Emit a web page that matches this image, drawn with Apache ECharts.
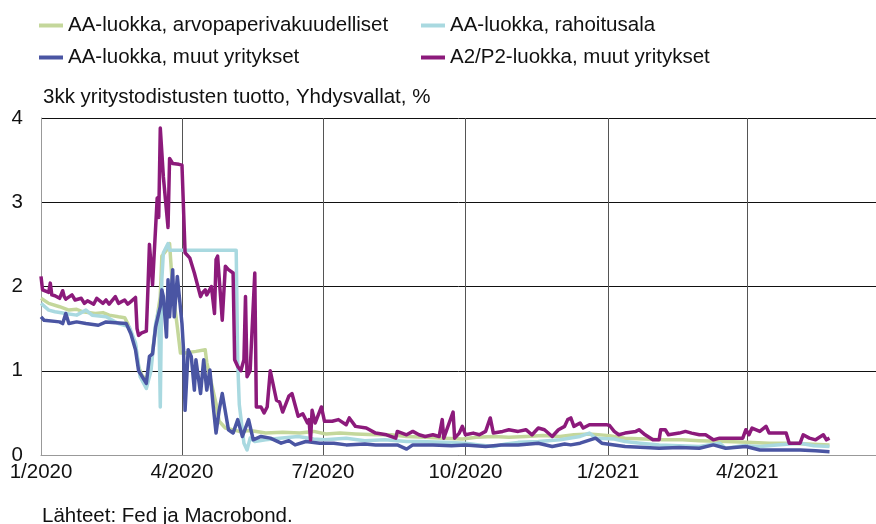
<!DOCTYPE html>
<html>
<head>
<meta charset="utf-8">
<script src="https://cdn.jsdelivr.net/npm/echarts@6/dist/echarts.min.js"></script>
<style>
  html, body { margin: 0; padding: 0; background: #fff; }
  #chart { width: 876px; height: 524px; }
</style>
</head>
<body>
<div id="chart"></div>
<script>
// series names, same order as the legend
var names = ['AA-luokka, arvopaperivakuudelliset', 'AA-luokka, rahoitusala',
             'AA-luokka, muut yritykset', 'A2/P2-luokka, muut yritykset'];
var yTicks = [0, 1, 2, 3, 4];

// AA-luokka, arvopaperivakuudelliset
var aaAbs = [
  ['2020-01-01',1.86],['2020-01-06',1.80],['2020-01-13',1.76],['2020-01-19',1.72],['2020-01-24',1.73],
  ['2020-01-28',1.70],['2020-02-05',1.68],['2020-02-10',1.69],['2020-02-14',1.66],['2020-02-20',1.64],
  ['2020-02-24',1.63],['2020-02-26',1.56],['2020-02-29',1.40],['2020-03-02',1.30],['2020-03-04',1.05],
  ['2020-03-06',0.95],['2020-03-09',0.89],['2020-03-12',1.09],['2020-03-15',1.52],['2020-03-18',1.88],
  ['2020-03-19',2.36],['2020-03-22',2.43],['2020-03-24',2.51],['2020-03-26',1.96],['2020-03-29',1.52],
  ['2020-03-31',1.21],['2020-04-03',1.21],['2020-04-10',1.23],['2020-04-16',1.25],['2020-04-17',1.10],
  ['2020-04-21',0.77],['2020-04-23',0.61],['2020-04-25',0.40],['2020-04-29',0.32],['2020-05-08',0.28],
  ['2020-05-15',0.29],['2020-05-25',0.26],['2020-06-05',0.27],['2020-06-16',0.26],['2020-06-25',0.28],
  ['2020-07-03',0.25],['2020-07-12',0.26],['2020-07-22',0.25],['2020-08-04',0.24],['2020-08-14',0.24],
  ['2020-08-24',0.22],['2020-09-05',0.21],['2020-09-17',0.20],['2020-09-29',0.19],['2020-10-08',0.21],
  ['2020-10-19',0.22],['2020-10-29',0.21],['2020-11-09',0.22],['2020-11-20',0.23],['2020-12-01',0.22],
  ['2020-12-10',0.24],['2020-12-20',0.25],['2021-01-02',0.23],['2021-01-12',0.20],['2021-01-25',0.19],
  ['2021-02-05',0.18],['2021-02-18',0.18],['2021-03-01',0.17],['2021-03-18',0.16],['2021-04-01',0.15],
  ['2021-04-15',0.14],['2021-04-28',0.14],['2021-05-10',0.13],['2021-05-24',0.12]
];

// AA-luokka, rahoitusala
var aaFin = [
  ['2020-01-01',1.80],['2020-01-06',1.72],['2020-01-10',1.70],['2020-01-17',1.68],['2020-01-24',1.66],
  ['2020-01-30',1.72],['2020-02-03',1.66],['2020-02-12',1.64],['2020-02-20',1.56],['2020-02-27',1.52],
  ['2020-03-02',1.33],['2020-03-05',0.93],['2020-03-09',0.79],['2020-03-12',1.00],['2020-03-15',1.56],
  ['2020-03-17',1.72],['2020-03-18',0.57],['2020-03-19',2.08],['2020-03-20',2.40],['2020-03-23',2.51],
  ['2020-03-24',2.43],['2020-05-06',2.43],['2020-05-07',1.09],['2020-05-08',0.60],['2020-05-11',0.14],
  ['2020-05-13',0.06],['2020-05-15',0.20],['2020-05-18',0.16],['2020-05-25',0.18],['2020-06-03',0.20],
  ['2020-06-15',0.22],['2020-06-25',0.19],['2020-07-02',0.18],['2020-07-16',0.20],['2020-07-28',0.17],
  ['2020-08-10',0.18],['2020-08-24',0.16],['2020-09-01',0.16],['2020-09-17',0.15],['2020-10-01',0.14],
  ['2020-10-10',0.12],['2020-10-19',0.10],['2020-10-27',0.13],['2020-11-04',0.15],['2020-11-17',0.16],
  ['2020-12-01',0.18],['2020-12-14',0.22],['2020-12-20',0.26],['2020-12-24',0.20],['2021-01-05',0.19],
  ['2021-01-12',0.16],['2021-01-22',0.14],['2021-02-03',0.12],['2021-02-16',0.11],['2021-03-01',0.10],
  ['2021-03-14',0.14],['2021-03-18',0.08],['2021-03-29',0.11],['2021-04-09',0.10],['2021-04-20',0.12],
  ['2021-05-05',0.14],['2021-05-14',0.11],['2021-05-24',0.10]
];

// AA-luokka, muut yritykset
var aaOther = [
  ['2020-01-01',1.64],['2020-01-03',1.60],['2020-01-13',1.58],['2020-01-15',1.56],['2020-01-17',1.68],
  ['2020-01-19',1.56],['2020-01-24',1.58],['2020-01-30',1.56],['2020-02-07',1.54],['2020-02-12',1.58],
  ['2020-02-18',1.57],['2020-02-25',1.56],['2020-02-28',1.44],['2020-03-02',1.25],['2020-03-04',1.00],
  ['2020-03-09',0.85],['2020-03-11',1.17],['2020-03-13',1.20],['2020-03-15',1.52],['2020-03-18',1.76],
  ['2020-03-19',1.96],['2020-03-20',1.88],['2020-03-22',1.40],['2020-03-23',2.08],['2020-03-24',1.64],
  ['2020-03-26',2.20],['2020-03-27',1.64],['2020-03-29',2.12],['2020-04-01',1.56],['2020-04-02',1.25],
  ['2020-04-03',0.53],['2020-04-05',1.25],['2020-04-07',1.17],['2020-04-09',0.77],['2020-04-10',1.13],
  ['2020-04-13',0.73],['2020-04-15',1.13],['2020-04-17',0.77],['2020-04-19',1.01],['2020-04-21',0.61],
  ['2020-04-23',0.26],['2020-04-25',0.53],['2020-04-27',0.73],['2020-05-01',0.30],['2020-05-04',0.26],
  ['2020-05-07',0.42],['2020-05-10',0.22],['2020-05-14',0.42],['2020-05-17',0.18],['2020-05-22',0.22],
  ['2020-05-28',0.20],['2020-06-04',0.14],['2020-06-09',0.17],['2020-06-13',0.12],['2020-06-20',0.16],
  ['2020-06-29',0.14],['2020-07-08',0.14],['2020-07-16',0.12],['2020-07-28',0.13],['2020-08-04',0.12],
  ['2020-08-18',0.12],['2020-08-24',0.07],['2020-08-28',0.12],['2020-09-10',0.12],['2020-09-22',0.11],
  ['2020-10-01',0.12],['2020-10-14',0.10],['2020-10-24',0.12],['2020-11-04',0.12],['2020-11-17',0.14],
  ['2020-11-26',0.10],['2020-12-04',0.13],['2020-12-08',0.12],['2020-12-14',0.14],['2020-12-24',0.20],
  ['2020-12-28',0.14],['2021-01-12',0.10],['2021-01-25',0.09],['2021-02-03',0.08],['2021-02-16',0.09],
  ['2021-03-01',0.08],['2021-03-10',0.12],['2021-03-18',0.08],['2021-03-31',0.10],['2021-04-09',0.06],
  ['2021-04-22',0.06],['2021-05-05',0.06],['2021-05-15',0.05],['2021-05-24',0.04]
];

// A2/P2-luokka, muut yritykset
var a2p2 = [
  ['2020-01-01',2.12],['2020-01-02',1.96],['2020-01-03',1.95],['2020-01-06',1.93],['2020-01-07',2.04],
  ['2020-01-08',1.90],['2020-01-10',1.89],['2020-01-13',1.86],['2020-01-15',1.95],['2020-01-16',1.88],
  ['2020-01-17',1.85],['2020-01-21',1.90],['2020-01-23',1.84],['2020-01-27',1.86],['2020-01-29',1.80],
  ['2020-01-31',1.83],['2020-02-04',1.79],['2020-02-06',1.86],['2020-02-10',1.80],['2020-02-12',1.84],
  ['2020-02-14',1.79],['2020-02-18',1.88],['2020-02-20',1.80],['2020-02-24',1.84],['2020-02-26',1.79],
  ['2020-02-28',1.82],['2020-03-02',1.87],['2020-03-03',1.50],['2020-03-04',1.42],['2020-03-06',1.45],
  ['2020-03-09',1.47],['2020-03-10',1.96],['2020-03-11',2.50],['2020-03-12',2.48],['2020-03-13',2.02],
  ['2020-03-16',3.05],['2020-03-17',2.82],['2020-03-18',3.88],['2020-03-19',3.86],['2020-03-20',3.30],
  ['2020-03-23',2.70],['2020-03-24',3.52],['2020-03-25',3.50],['2020-03-26',3.46],['2020-03-30',3.45],
  ['2020-04-01',3.44],['2020-04-02',3.43],['2020-04-03',2.40],['2020-04-06',2.34],['2020-04-07',2.32],
  ['2020-04-09',2.16],['2020-04-13',1.88],['2020-04-14',1.92],['2020-04-16',1.96],['2020-04-17',1.90],
  ['2020-04-20',2.00],['2020-04-22',1.68],['2020-04-23',2.32],['2020-04-24',2.36],['2020-04-27',1.60],
  ['2020-04-29',2.24],['2020-05-01',2.20],['2020-05-04',2.16],['2020-05-05',1.13],['2020-05-07',1.05],
  ['2020-05-09',1.00],['2020-05-11',1.13],['2020-05-12',1.88],['2020-05-13',0.93],['2020-05-15',1.00],
  ['2020-05-18',2.16],['2020-05-19',0.57],['2020-05-22',0.57],['2020-05-24',0.50],['2020-05-26',0.57],
  ['2020-05-28',1.00],['2020-06-01',0.65],['2020-06-03',0.63],['2020-06-05',0.51],['2020-06-09',0.70],
  ['2020-06-11',0.73],['2020-06-15',0.46],['2020-06-18',0.49],['2020-06-21',0.38],['2020-06-22',0.42],
  ['2020-06-23',0.18],['2020-06-24',0.53],['2020-06-26',0.38],['2020-06-30',0.57],['2020-07-02',0.40],
  ['2020-07-07',0.40],['2020-07-11',0.42],['2020-07-16',0.36],['2020-07-18',0.44],['2020-07-22',0.34],
  ['2020-07-29',0.32],['2020-08-04',0.26],['2020-08-11',0.24],['2020-08-17',0.20],['2020-08-18',0.28],
  ['2020-08-24',0.24],['2020-08-28',0.28],['2020-09-01',0.24],['2020-09-05',0.22],['2020-09-10',0.24],
  ['2020-09-14',0.22],['2020-09-16',0.42],['2020-09-17',0.20],['2020-09-23',0.51],['2020-09-24',0.20],
  ['2020-09-27',0.26],['2020-09-29',0.34],['2020-10-01',0.24],['2020-10-06',0.26],['2020-10-10',0.24],
  ['2020-10-14',0.28],['2020-10-17',0.44],['2020-10-19',0.26],['2020-10-25',0.28],['2020-10-29',0.30],
  ['2020-11-04',0.28],['2020-11-09',0.30],['2020-11-13',0.24],['2020-11-17',0.32],['2020-11-21',0.30],
  ['2020-11-26',0.22],['2020-11-30',0.30],['2020-12-04',0.34],['2020-12-06',0.42],['2020-12-08',0.44],
  ['2020-12-10',0.34],['2020-12-14',0.38],['2020-12-16',0.32],['2020-12-20',0.36],['2020-12-31',0.36],
  ['2021-01-02',0.35],['2021-01-05',0.28],['2021-01-08',0.24],['2021-01-12',0.26],['2021-01-19',0.28],
  ['2021-01-21',0.30],['2021-01-25',0.24],['2021-01-30',0.18],['2021-02-03',0.18],['2021-02-04',0.30],
  ['2021-02-07',0.30],['2021-02-09',0.24],['2021-02-16',0.26],['2021-02-20',0.28],['2021-02-24',0.26],
  ['2021-03-01',0.24],['2021-03-05',0.24],['2021-03-10',0.18],['2021-03-14',0.20],['2021-03-29',0.20],
  ['2021-03-31',0.30],['2021-04-02',0.24],['2021-04-04',0.32],['2021-04-09',0.28],['2021-04-13',0.34],
  ['2021-04-15',0.26],['2021-04-26',0.26],['2021-04-28',0.14],['2021-05-05',0.14],['2021-05-07',0.24],
  ['2021-05-11',0.20],['2021-05-15',0.18],['2021-05-20',0.24],['2021-05-22',0.18],['2021-05-24',0.20]
];

var colors = ['#c4d79b', '#a9d9e0', '#4a55a3', '#8c1a7b'];
var font = '"Liberation Sans", Arial, sans-serif';
var DAY = 24 * 3600 * 1000;

var chart = echarts.init(document.getElementById('chart'), null, { renderer: 'canvas' });

function line(name, data, color) {
  return {
    name: name,
    type: 'line',
    data: data,
    showSymbol: false,
    symbol: 'none',
    animation: false,
    lineStyle: { color: color, width: 3.5, join: 'round' },
    itemStyle: { color: color }
  };
}

function legend(left, items) {
  return {
    orient: 'vertical',
    left: left,
    top: 15,
    padding: 0,
    itemGap: 11,
    itemWidth: 24,
    itemHeight: 4,
    icon: 'rect',
    data: items,
    textStyle: { fontFamily: font, fontSize: 20.5, color: '#111', lineHeight: 20 }
  };
}

var option = {
  backgroundColor: '#fff',
  color: colors,
  title: {
    text: '3kk yritystodistusten tuotto, Yhdysvallat, %',
    left: 38,
    top: 82,
    textStyle: { fontFamily: font, fontSize: 20.5, fontWeight: 'normal', color: '#111' }
  },
  legend: [legend(39, [names[0], names[2]]), legend(421, [names[1], names[3]])],
  grid: { left: 41, right: 0, top: 118, bottom: 69 },
  xAxis: {
    type: 'time',
    min: new Date(2020, 0, 1).getTime(),
    max: new Date(2021, 5, 23).getTime(),
    minInterval: 93 * DAY,
    maxInterval: 93 * DAY,
    axisLine: { lineStyle: { color: '#999', width: 1 } },
    axisTick: { show: false },
    axisLabel: {
      fontFamily: font, fontSize: 20.5, color: '#111', margin: 7,
      formatter: function (v) {
        var d = new Date(v);
        return (d.getMonth() + 1) + '/' + d.getFullYear();
      }
    },
    splitLine: { show: true, lineStyle: { color: '#555', width: 1 } }
  },
  yAxis: {
    type: 'value',
    min: yTicks[0],
    max: yTicks[yTicks.length - 1],
    interval: 1,
    axisLine: { show: true, lineStyle: { color: '#999' } },
    axisTick: { show: false },
    axisLabel: { fontFamily: font, fontSize: 20.5, color: '#111', margin: 18 },
    splitLine: { show: true, lineStyle: { color: '#111', width: 1 } }
  },
  graphic: [{
    type: 'text',
    left: 42,
    top: 506,
    style: { text: 'Lähteet: Fed ja Macrobond.', font: '20.5px ' + font, fill: '#111' }
  }],
  series: [
    line(names[0], aaAbs, colors[0]),
    line(names[1], aaFin, colors[1]),
    line(names[2], aaOther, colors[2]),
    line(names[3], a2p2, colors[3])
  ]
};

chart.setOption(option);
</script>
</body>
</html>
